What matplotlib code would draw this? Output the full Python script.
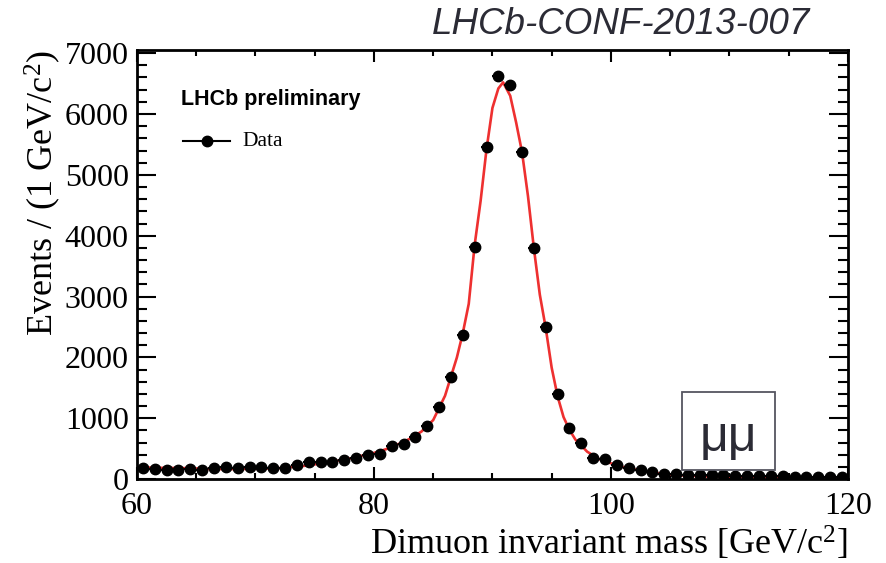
import numpy as np
import matplotlib
matplotlib.use("Agg")
import matplotlib.pyplot as plt
from matplotlib.patches import Rectangle

plt.rcParams['font.family'] = ['Liberation Serif', 'DejaVu Serif']
plt.rcParams['mathtext.fontset'] = 'custom'
plt.rcParams['mathtext.rm'] = 'Liberation Serif'
plt.rcParams['mathtext.it'] = 'Liberation Serif:italic'

# data points, 1 GeV bins from 60 to 120
mass = np.arange(60.5, 120, 1.0)
events = [175, 160, 150, 150, 170, 150, 175, 195, 175, 200,
          200, 190, 175, 225, 280, 280, 280, 315, 345, 390,
          420, 540, 585, 700, 870, 1190, 1680, 2370, 3820, 5450,
          6620, 6480, 5380, 3800, 2500, 1400, 840, 590, 340, 330,
          225, 180, 145, 115, 90, 80, 75, 70, 65, 60,
          55, 50, 50, 45, 45, 40, 40, 35, 35, 30]
events = np.array(events, dtype=float)

# fit curve
fit_x = [60, 62, 64, 65, 66, 68, 70, 72, 74, 76, 78, 80, 81, 82, 83, 84, 85, 86, 87,
         87.5, 88, 88.5, 89, 89.5, 90, 90.5, 90.9, 91.5, 92, 92.5, 93, 93.5, 94,
         94.5, 95, 95.5, 96, 96.5, 97, 98, 99, 100, 101, 102, 104, 106, 108, 110, 115, 120]
fit_y = [195, 185, 180, 175, 165, 165, 170, 180, 215, 270, 340, 430, 490, 570, 660, 780, 970, 1370, 2000,
         2400, 2880, 3850, 4570, 5420, 6100, 6420, 6520, 6300, 5860, 5370, 4650, 3790, 3030,
         2480, 1830, 1360, 1020, 810, 650, 450, 330, 260, 200, 160, 95, 60, 45, 38, 30, 25]

fig = plt.figure(figsize=(8.86, 5.63), dpi=100)
ax = fig.add_axes([0.1546, 0.149, 0.8024, 0.762])

ax.plot(fit_x, fit_y, color='#ee3030', lw=1.9, zorder=2)
ax.errorbar(mass, events, xerr=0.5, yerr=np.sqrt(events), fmt='o', color='black',
            ms=7.5, elinewidth=1.5, capsize=0, zorder=3)

ax.set_xlim(60, 120)
ax.set_ylim(0, 7050)
ax.set_xticks([60, 80, 100, 120])
ax.set_xticks(np.arange(60, 121, 5), minor=True)
ax.set_yticks(np.arange(0, 7001, 1000))
ax.set_yticks(np.arange(0, 7001, 200), minor=True)

ax.tick_params(axis='both', which='both', direction='in', top=True, right=True, width=1.5)
ax.tick_params(axis='y', which='major', length=14, labelsize=23, pad=6)
ax.tick_params(axis='y', which='minor', length=7)
ax.tick_params(axis='x', which='major', length=8.5, labelsize=23, pad=9)
ax.tick_params(axis='x', which='minor', length=4.3)
for s in ax.spines.values():
    s.set_linewidth(2)

ax.set_xlabel('Dimuon invariant mass [GeV/c$^{2}$]', fontsize=26, loc='right', labelpad=3)
ax.set_ylabel('Events / (1 GeV/c$^{2}$)', fontsize=26, loc='top', labelpad=1)

ax.text(0.062, 0.885, 'LHCb preliminary', transform=ax.transAxes, fontsize=15.5,
        fontweight='bold', family='Liberation Sans', va='center')
ax.plot([0.065, 0.131], [0.787, 0.787], transform=ax.transAxes, color='black', lw=1.5)
ax.plot([0.098], [0.787], 'o', transform=ax.transAxes, color='black', ms=7.5)
ax.text(0.148, 0.787, 'Data', transform=ax.transAxes, fontsize=15.5, va='center')

fig.text(810 / 886, 1 - 25 / 563, 'LHCb-CONF-2013-007', ha='right', va='center',
         fontsize=26.5, style='italic', family='Liberation Sans', color='#2b2b35')

fig.patches.append(Rectangle((682 / 886, 1 - 470 / 563), 93 / 886, 78 / 563,
                             transform=fig.transFigure, facecolor='white',
                             edgecolor='#555560', lw=1.3, zorder=5))
fig.text(728 / 886, 1 - 438 / 563, 'μμ', ha='center', va='center', fontsize=36,
         family='Liberation Sans', color='#2b2b35', zorder=6)

fig.savefig('out.png', dpi=100)
